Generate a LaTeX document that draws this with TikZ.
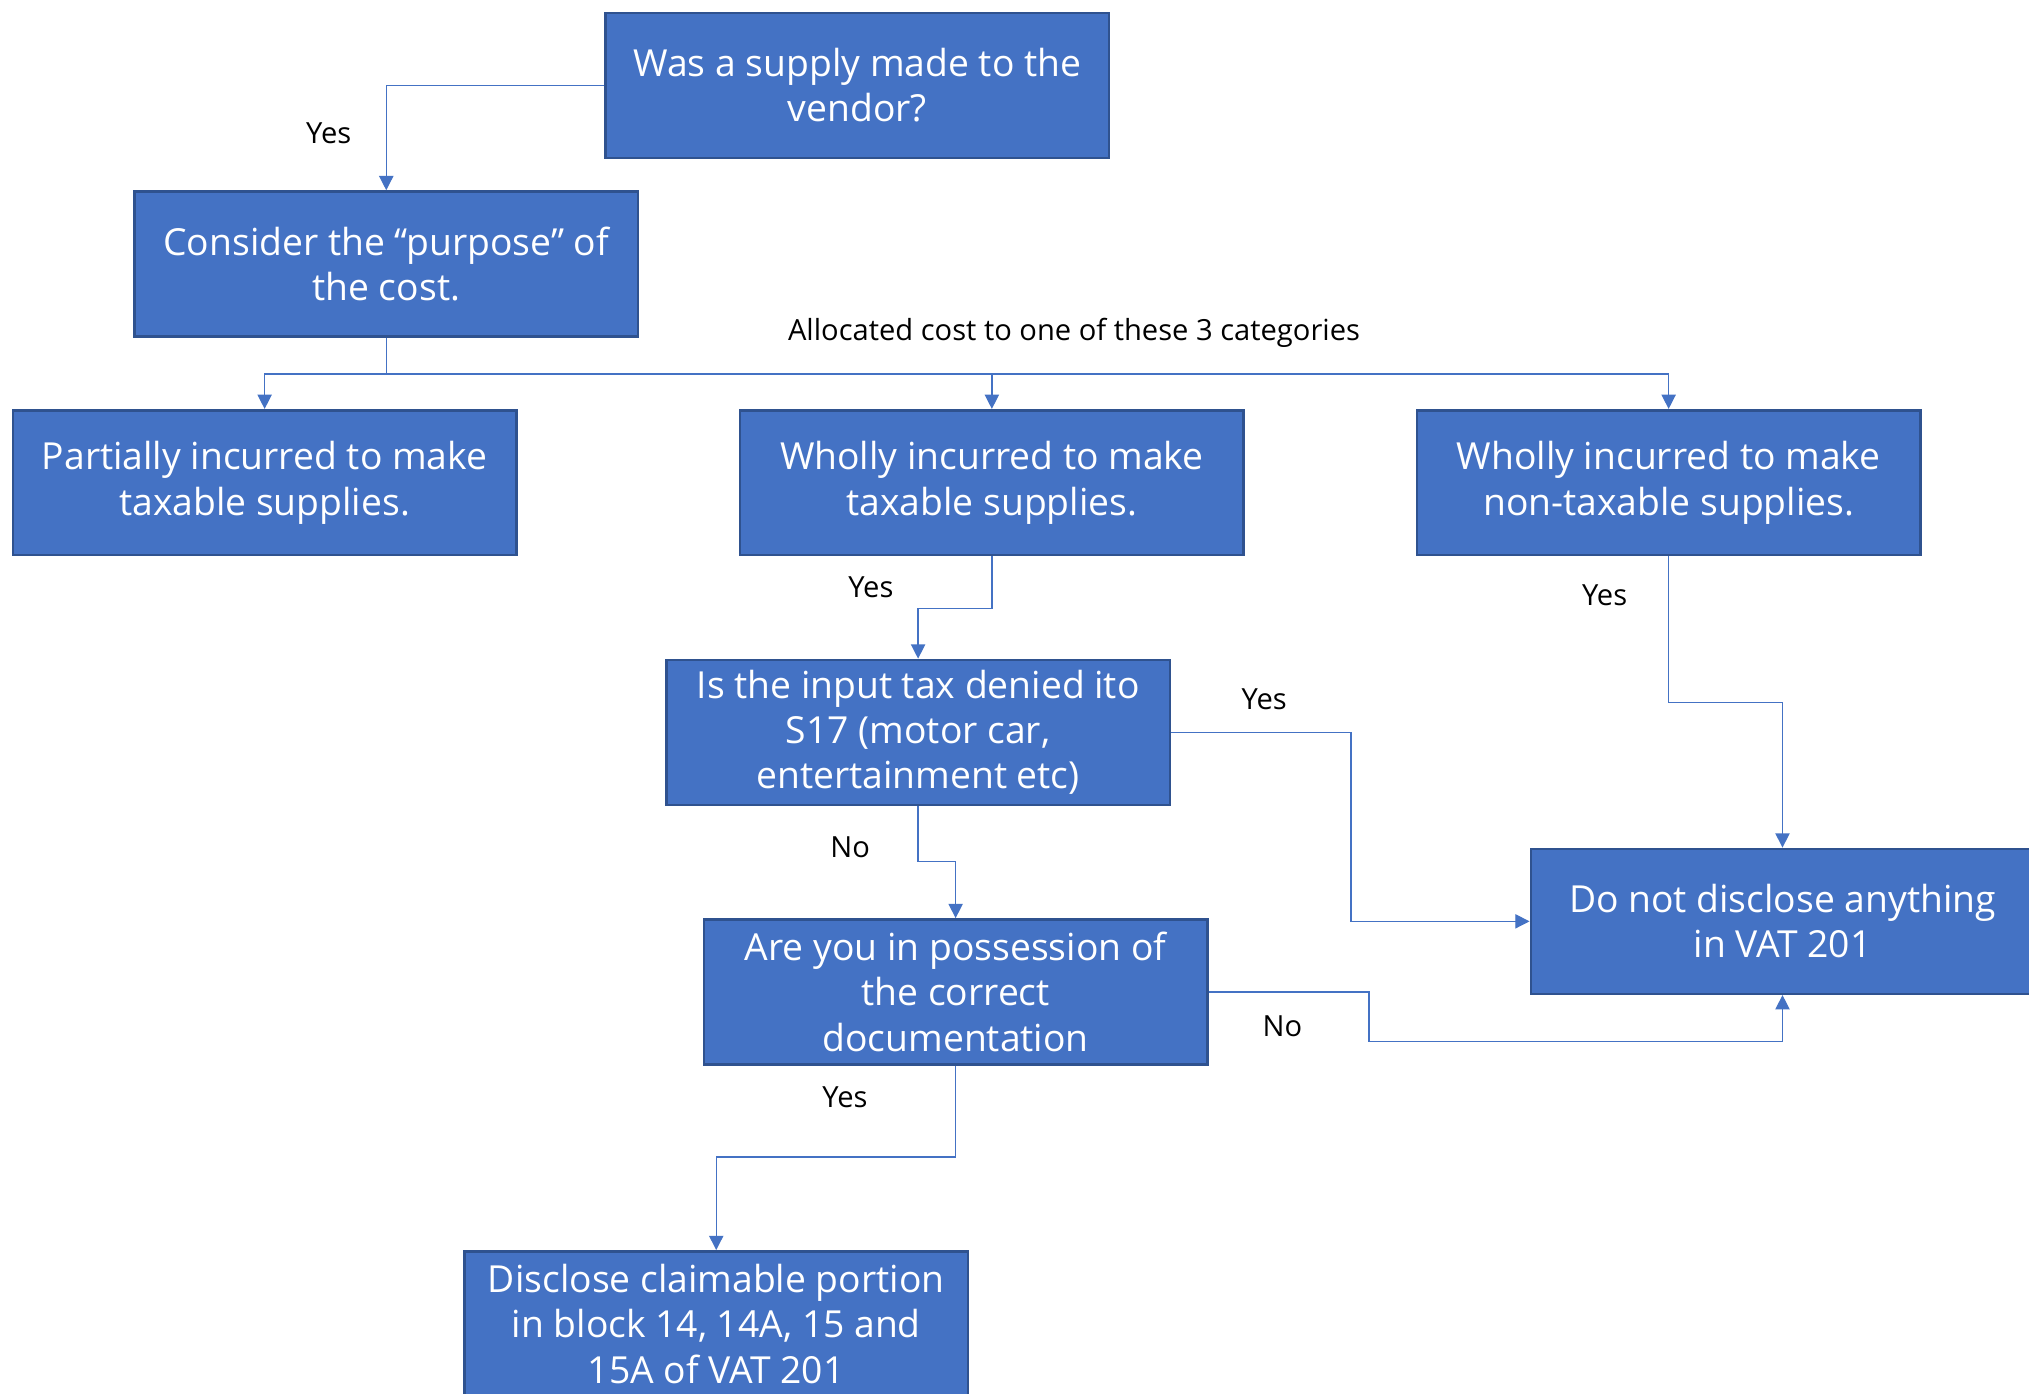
\documentclass[tikz,border=0pt]{standalone}
\usepackage{fontspec}
\setmainfont{Open Sans}
\usetikzlibrary{arrows.meta}
\definecolor{boxfill}{HTML}{4472C4}
\definecolor{boxline}{HTML}{2F528F}
\definecolor{conn}{HTML}{4472C4}
\begin{document}
\begin{tikzpicture}[x=1pt,y=-1pt,
  box/.style={draw=boxline,line width=2pt,fill=boxfill,text=white,
    minimum width=389pt,minimum height=112pt,inner sep=0pt,align=center,
    font=\fontsize{28.8}{35}\selectfont},
  lbl/.style={font=\fontsize{22.5}{26}\selectfont,text=black,inner sep=0pt},
  conn/.style={draw=conn,line width=1pt,-{Triangle[width=11pt,length=11pt]}},
  plain/.style={draw=conn,line width=1pt}]
\useasboundingbox (0,0) rectangle (1568,1077);
\fill[white] (0,0) rectangle (1568,1077);

\node[box] (b1) at (662.5,66) {Was a supply made to the\\vendor?};
\node[box] (b2) at (298.5,204) {Consider the “purpose” of\\the cost.};
\node[box] (b3) at (204.5,373) {Partially incurred to make\\taxable supplies.};
\node[box] (b4) at (766.5,373) {Wholly incurred to make\\taxable supplies.};
\node[box] (b5) at (1289.5,373) {Wholly incurred to make\\non-taxable supplies.};
\node[box] (b6) at (709.5,566) {Is the input tax denied ito\\S17 (motor car,\\entertainment etc)};
\node[box] (b7) at (738.5,766.5) {Are you in possession of\\the correct\\documentation};
\node[box] (b8) at (1377.5,712) {Do not disclose anything\\in VAT 201};
\node[box] (b9) at (553.5,1023) {Disclose claimable portion\\in block 14, 14A, 15 and\\15A of VAT 201};

\coordinate (bus) at (298.5,289);
\draw[conn] (b1.west) -| (b2.north);
\draw[plain] (b2.south) -- (bus);
\draw[conn] (bus) -| (b3.north);
\draw[conn] (bus) -| (b4.north);
\draw[conn] (bus) -| (b5.north);

\draw[conn] (b4.south) |- (766.5,470) -| (b6.north);
\draw[conn] (b5.south) |- (1377.5,543) -- (b8.north);
\draw[conn] (b6.east) -| (1044,712) -- (b8.west);
\draw[conn] (b6.south) |- (738.5,666) -- (b7.north);
\draw[conn] (b7.east) -| (1058,805) -| (b8.south);
\draw[conn] (b7.south) |- (553.5,894) -- (b9.north);

\node[lbl] (l1) at (254,103) {Yes};
\node[lbl] (l2) at (830,257) {Allocated cost to one of these 3 categories};
\node[lbl] (l3) at (673,454) {Yes};
\node[lbl] (l4) at (1240,460) {Yes};
\node[lbl] (l5) at (977,540) {Yes};
\node[lbl] (l6) at (657,655) {No};
\node[lbl] (l7) at (991,793) {No};
\node[lbl] (l8) at (653,848) {Yes};
\end{tikzpicture}
\end{document}
